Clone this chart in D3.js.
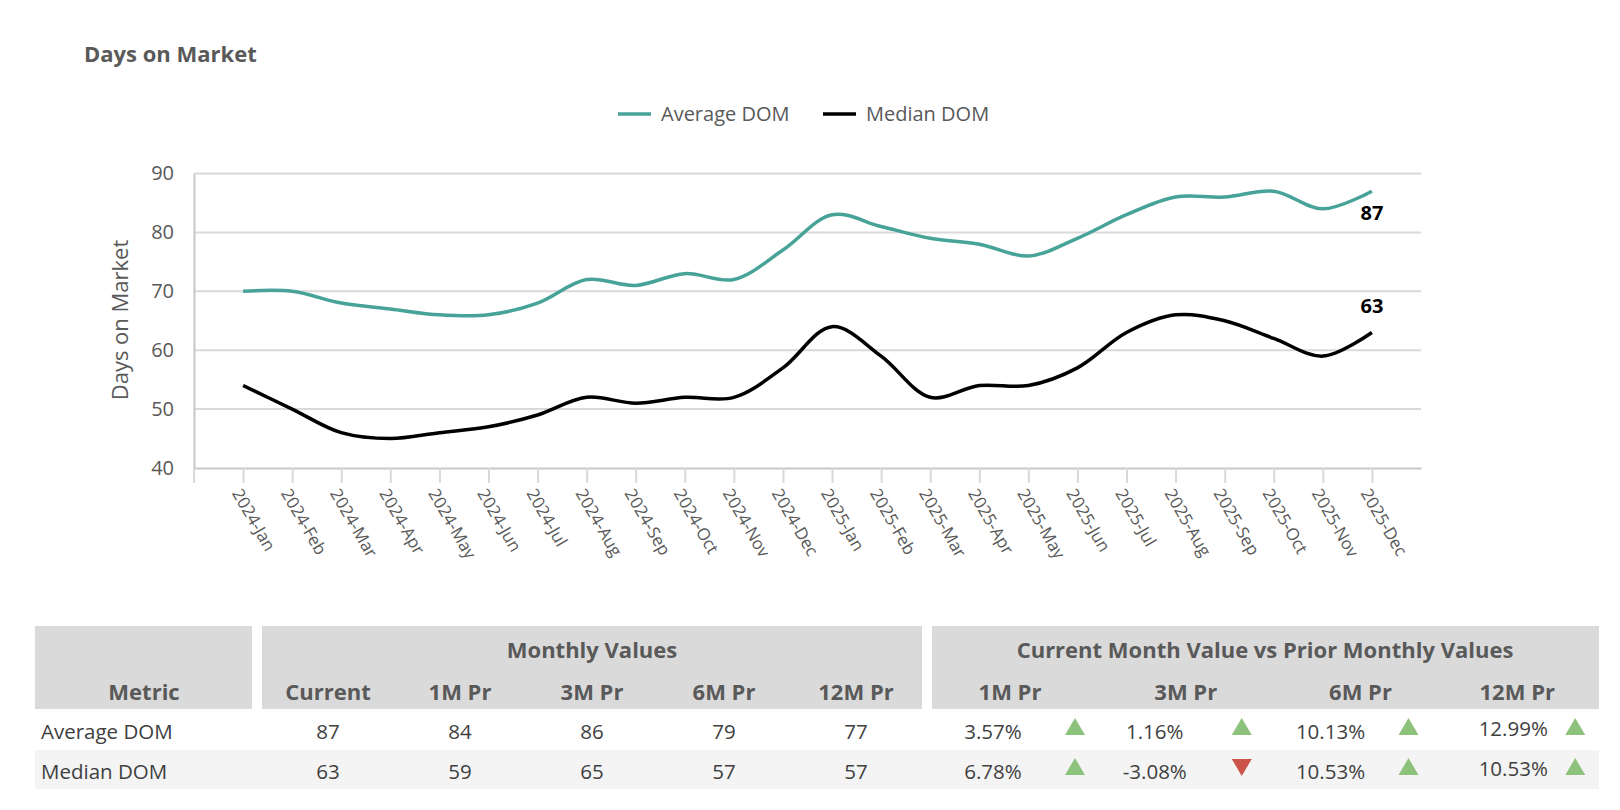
<!DOCTYPE html>
<html>
<head>
<meta charset="utf-8">
<script src="https://cdn.jsdelivr.net/npm/d3@7"></script>
<style>
  body { margin: 0; background: #fff; }
  svg { font-family: "Segoe UI", "Open Sans", sans-serif; }
</style>
</head>
<body>
<svg id="chart" width="1620" height="810"></svg>
<script>
// Months on the x axis
const months = [
  "2024-Jan", "2024-Feb", "2024-Mar", "2024-Apr", "2024-May", "2024-Jun",
  "2024-Jul", "2024-Aug", "2024-Sep", "2024-Oct", "2024-Nov", "2024-Dec",
  "2025-Jan", "2025-Feb", "2025-Mar", "2025-Apr", "2025-May", "2025-Jun",
  "2025-Jul", "2025-Aug", "2025-Sep", "2025-Oct", "2025-Nov", "2025-Dec"
];
const averageDom = [70, 70, 68, 67, 66, 66, 68, 72, 71, 73, 72, 77,
                    83, 81, 79, 78, 76, 79, 83, 86, 86, 87, 84, 87];
const medianDom = [54, 50, 46, 45, 46, 47, 49, 52, 51, 52, 52, 57,
                   64, 59, 52, 54, 54, 57, 63, 66, 65, 62, 59, 63];
const yTicks = [40, 50, 60, 70, 80, 90];

// Table data
const tableMetrics = ["Average DOM", "Median DOM"];
const monthlyHeaders = ["Current", "1M Pr", "3M Pr", "6M Pr", "12M Pr"];
const monthlyValues = [
  [87, 84, 86, 79, 77],
  [63, 59, 65, 57, 57]
];
const compareHeaders = ["1M Pr", "3M Pr", "6M Pr", "12M Pr"];
const compareValues = [
  ["3.57%", "1.16%", "10.13%", "12.99%"],
  ["6.78%", "-3.08%", "10.53%", "10.53%"]
];

const teal = "#47a398";
const grey = "#595959";

const svg = d3.select("#chart");

// Title
svg.append("text")
  .attr("x", 84).attr("y", 62)
  .attr("font-size", 22).attr("font-weight", 700)
  .attr("fill", grey)
  .text("Days on Market");

// Legend
const legendItems = [
  { name: "Average DOM", color: teal, x: 618 },
  { name: "Median DOM", color: "#000", x: 823 }
];
const legend = svg.append("g").attr("class", "legend");
legendItems.forEach((d) => {
  legend.append("line")
    .attr("x1", d.x).attr("x2", d.x + 33)
    .attr("y1", 114).attr("y2", 114)
    .attr("stroke", d.color).attr("stroke-width", 3.5);
  legend.append("text")
    .attr("x", d.x + 43).attr("y", 121)
    .attr("font-size", 20).attr("fill", grey)
    .text(d.name);
});

// Scales
const x = d3.scalePoint().domain(months).range([194, 1421]).padding(1);
const y = d3.scaleLinear().domain([40, 90]).range([468, 173.5]);

// Gridlines
svg.append("g")
  .selectAll("line")
  .data(yTicks.filter((t) => t > 40))
  .join("line")
  .attr("x1", 194).attr("x2", 1421)
  .attr("y1", (d) => y(d)).attr("y2", (d) => y(d))
  .attr("stroke", "#d9d9d9").attr("stroke-width", 2);

// Y axis
const yAxis = svg.append("g")
  .attr("transform", "translate(194,0)")
  .call(d3.axisLeft(y).tickValues(yTicks).tickSize(0).tickPadding(20));
yAxis.select(".domain").attr("stroke", "#c8c8c8").attr("stroke-width", 2);
yAxis.selectAll("text")
  .attr("font-size", 20).attr("fill", grey)
  .attr("font-family", "'Segoe UI', 'Open Sans', sans-serif");

svg.append("text")
  .attr("transform", "translate(128,320) rotate(-90)")
  .attr("text-anchor", "middle")
  .attr("font-size", 22).attr("fill", grey)
  .text("Days on Market");

// X axis
const xAxis = svg.append("g")
  .attr("transform", "translate(0,468)")
  .call(d3.axisBottom(x).tickSize(15).tickSizeOuter(0));
xAxis.select(".domain").attr("stroke", "#c8c8c8").attr("stroke-width", 2);
xAxis.selectAll(".tick line").attr("stroke", "#d9d9d9").attr("stroke-width", 2);
xAxis.selectAll("text")
  .attr("font-size", 17).attr("fill", grey)
  .attr("font-family", "'Segoe UI', 'Open Sans', sans-serif")
  .attr("text-anchor", "start")
  .attr("transform", "translate(-7,22) rotate(60)")
  .attr("dy", "0.35em")
  .attr("y", 0).attr("x", 0);
// left edge tick
svg.append("line")
  .attr("x1", 194).attr("x2", 194).attr("y1", 468).attr("y2", 483)
  .attr("stroke", "#d9d9d9").attr("stroke-width", 2);

// Lines
const line = d3.line()
  .x((d, i) => x(months[i]))
  .y((d) => y(d))
  .curve(d3.curveCatmullRom.alpha(0.5));

svg.append("path")
  .datum(averageDom)
  .attr("d", line)
  .attr("fill", "none").attr("stroke", teal).attr("stroke-width", 3.5);

svg.append("path")
  .datum(medianDom)
  .attr("d", line)
  .attr("fill", "none").attr("stroke", "#000").attr("stroke-width", 3.5);

// End labels
const last = months.length - 1;
svg.append("text")
  .attr("x", x(months[last])).attr("y", y(averageDom[last]) + 29)
  .attr("text-anchor", "middle")
  .attr("font-size", 20).attr("font-weight", 700).attr("fill", "#000")
  .text(averageDom[last]);
svg.append("text")
  .attr("x", x(months[last])).attr("y", y(medianDom[last]) - 20)
  .attr("text-anchor", "middle")
  .attr("font-size", 20).attr("font-weight", 700).attr("fill", "#000")
  .text(medianDom[last]);

// Table
const table = svg.append("g").attr("class", "table");
const headerFill = "#dadada";
const headTop = 626, headBottom = 709;
const rowTops = [710, 750], rowH = 39;

// row 2 striping
table.append("rect")
  .attr("x", 35).attr("y", rowTops[1]).attr("width", 1564).attr("height", rowH)
  .attr("fill", "#f4f4f4");

const blocks = [
  { x0: 35, x1: 252 },
  { x0: 262, x1: 922 },
  { x0: 932, x1: 1599 }
];
blocks.forEach((b) => {
  table.append("rect")
    .attr("x", b.x0).attr("y", headTop)
    .attr("width", b.x1 - b.x0).attr("height", headBottom - headTop)
    .attr("fill", headerFill);
});

const headText = (tx, ty, t) => table.append("text")
  .attr("x", tx).attr("y", ty)
  .attr("text-anchor", "middle")
  .attr("font-size", 22).attr("font-weight", 700).attr("fill", grey)
  .text(t);

headText(592, 658, "Monthly Values");
headText(1265, 658, "Current Month Value vs Prior Monthly Values");
headText(144, 700, "Metric");

const monthlyX = d3.scaleBand().domain(monthlyHeaders).range([262, 922]);
monthlyHeaders.forEach((h) => headText(monthlyX(h) + monthlyX.bandwidth() / 2, 700, h));

const compareX = d3.scaleBand().domain(compareHeaders).range([932, 1599]);
const compareHeadOffset = [78, 87, 95, 85];
compareHeaders.forEach((h, i) => headText(compareX(h) + compareHeadOffset[i], 700, h));

const textOffset = [61, 56, 65, 81];
tableMetrics.forEach((m, r) => {
  const baseY = rowTops[r] + 29;
  table.append("text")
    .attr("x", 41).attr("y", baseY)
    .attr("font-size", 20.5).attr("fill", "#404040")
    .text(m);
  monthlyHeaders.forEach((h, c) => {
    table.append("text")
      .attr("x", monthlyX(h) + monthlyX.bandwidth() / 2).attr("y", baseY)
      .attr("text-anchor", "middle")
      .attr("font-size", 20.5).attr("fill", "#404040")
      .text(monthlyValues[r][c]);
  });
  compareHeaders.forEach((h, c) => {
    const val = compareValues[r][c];
    const up = !val.startsWith("-");
    table.append("text")
      .attr("x", compareX(h) + textOffset[c]).attr("y", baseY + (c === 3 ? -3 : 0))
      .attr("text-anchor", "middle")
      .attr("font-size", 20.5).attr("fill", "#404040")
      .text(val);
    const tx = compareX(h) + 143, ty = rowTops[r] + 17;
    const tri = up
      ? `M${tx - 10},${ty + 8} L${tx + 10},${ty + 8} L${tx},${ty - 9} Z`
      : `M${tx - 10},${ty - 8} L${tx + 10},${ty - 8} L${tx},${ty + 9} Z`;
    table.append("path")
      .attr("d", tri)
      .attr("fill", up ? "#8cc27b" : "#cc5349");
  });
});
</script>
</body>
</html>
